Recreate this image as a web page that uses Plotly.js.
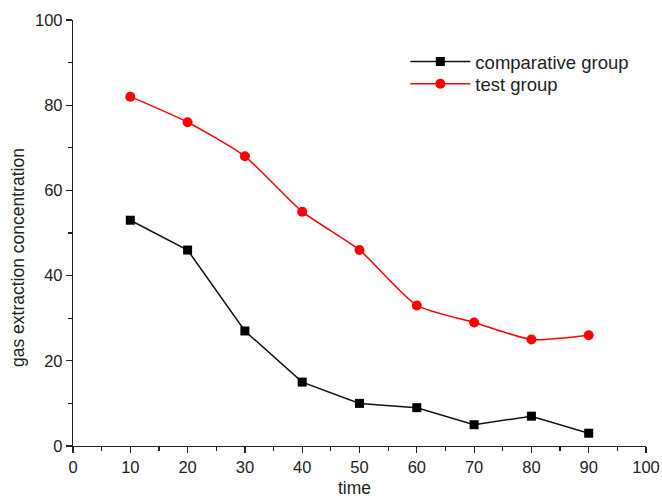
<!DOCTYPE html>
<html>
<head>
<meta charset="utf-8">
<script src="https://cdn.plot.ly/plotly-3.0.1.min.js"></script>
<style>html,body{margin:0;padding:0;background:#fff;}#chart{width:662px;height:499px;}</style>
</head>
<body>
<div id="chart"></div>
<script>
const times = [10, 20, 30, 40, 50, 60, 70, 80, 90];
const comparativeGroup = [53, 46, 27, 15, 10, 9, 5, 7, 3];
const testGroup = [82, 76, 68, 55, 46, 33, 29, 25, 26];
const seriesNames = ['comparative group', 'test group'];
const xTitle = 'time';
const yTitle = 'gas extraction concentration';

const fam = 'Liberation Sans, Arial, sans-serif';
const txt = '#222';

const traces = [
  {x: times, y: comparativeGroup, name: seriesNames[0], type: 'scatter', mode: 'lines+markers', legend: 'legend',
   line: {color: '#111', width: 1.5}, marker: {symbol: 'square', size: 9, color: '#000'}},
  {x: times, y: testGroup, name: seriesNames[1], type: 'scatter', mode: 'lines+markers', legend: 'legend2',
   line: {color: '#ff0000', width: 1.5, shape: 'spline', smoothing: 0.6}, marker: {symbol: 'circle', size: 10, color: '#ff0000'}}
];

const axisCommon = {
  showgrid: false, zeroline: false, showline: true, linecolor: '#222', linewidth: 1.2,
  ticks: 'outside', ticklen: 6, tickwidth: 1.2, tickcolor: '#222',
  tickfont: {family: fam, size: 16.5, color: txt}
};

const legendCommon = {xanchor: 'left', yanchor: 'top', bgcolor: 'rgba(0,0,0,0)',
  font: {family: fam, size: 18.5, color: txt}, itemwidth: 60};

const layout = {
  width: 662, height: 499,
  margin: {l: 73, r: 16, t: 20, b: 53},
  paper_bgcolor: '#fff', plot_bgcolor: '#fff',
  font: {family: fam, color: txt, size: 15},
  showlegend: true,
  legend: Object.assign({}, legendCommon, {x: 0.58, y: 0.946}),
  legend2: Object.assign({}, legendCommon, {x: 0.58, y: 0.894}),
  xaxis: Object.assign({}, axisCommon, {
    range: [0, 100], dtick: 10, tick0: 0,
    minor: {dtick: 5, ticks: 'outside', ticklen: 4, tickwidth: 1.2, tickcolor: '#222'}
  }),
  yaxis: Object.assign({}, axisCommon, {
    range: [0, 100], dtick: 20, tick0: 0,
    minor: {dtick: 10, ticks: 'outside', ticklen: 4, tickwidth: 1.2, tickcolor: '#222'}
  }),
  annotations: [
    {text: xTitle, xref: 'paper', yref: 'paper', x: (354 - 73) / 573, y: -(488 - 446) / 426,
     xanchor: 'center', yanchor: 'middle', showarrow: false, font: {family: fam, size: 17.5, color: txt}},
    {text: yTitle, xref: 'paper', yref: 'paper', x: (18 - 73) / 573, y: (446 - 258) / 426, textangle: -90,
     xanchor: 'center', yanchor: 'middle', showarrow: false, font: {family: fam, size: 17.5, color: txt}}
  ]
};

Plotly.newPlot('chart', traces, layout, {displayModeBar: false, staticPlot: true});
</script>
</body>
</html>
